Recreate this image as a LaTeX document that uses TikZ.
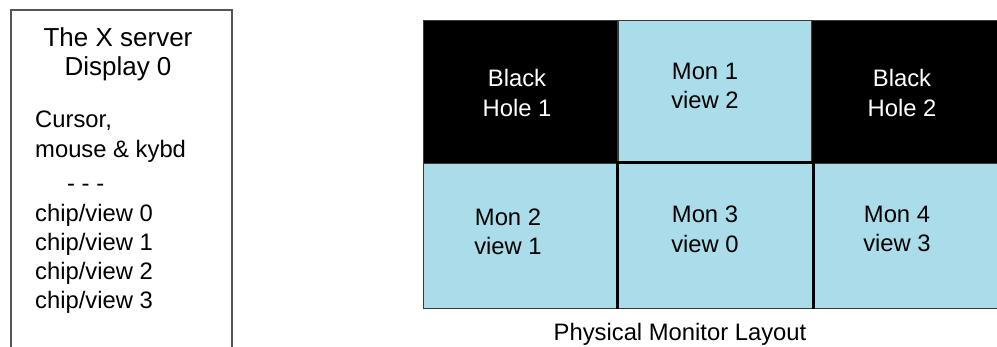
\documentclass[tikz,border=0pt]{standalone}
\usepackage{fontspec}
\setmainfont{Liberation Sans}
\definecolor{monblue}{HTML}{AADDE9}
\definecolor{edgegray}{HTML}{3A3A3A}
\definecolor{panelgray}{HTML}{555555}
\begin{document}
\begin{tikzpicture}[x=1pt,y=-1pt,
  txt/.style={inner sep=0pt, anchor=base, font=\fontsize{23.8}{28}\selectfont},
  ltxt/.style={txt, anchor=base west},
  ttl/.style={inner sep=0pt, anchor=base, font=\fontsize{26}{30}\selectfont},
  cell/.style={draw=edgegray, line width=1pt, inner sep=0pt, anchor=north west},
  mon/.style={cell, fill=monblue},
  hole/.style={cell, fill=black},
  heavy/.style={draw=black, line width=3pt},
]
\useasboundingbox (0,0) rectangle (997,347);
\clip (0,0) rectangle (997,347);
% left panel
\draw[panelgray, line width=1.3pt] (11,350) -- (11,10) -- (232,10) -- (232,350);
\node[ttl] (t1) at (118,47) {The X server};
\node[ttl] (t2) at (118,76) {Display 0};
\node[ltxt] (l1) at (35,128) {Cursor,};
\node[ltxt] (l2) at (35,158) {mouse \& kybd};
\node[ltxt] (l3) at (67,192) {- - -};
\node[ltxt] (c0) at (35,222) {chip/view 0};
\node[ltxt] (c1) at (35,251) {chip/view 1};
\node[ltxt] (c2) at (35,280) {chip/view 2};
\node[ltxt] (c3) at (35,309) {chip/view 3};
% monitor grid
\node[hole, minimum width=194pt, minimum height=143pt] (bh1) at (423,20) {};
\node[mon, minimum width=193pt, minimum height=143pt] (m1) at (618,20) {};
\node[hole, minimum width=195pt, minimum height=143pt] (bh2) at (811,20) {};
\node[mon, minimum width=194pt, minimum height=145pt] (m2) at (423,163) {};
\node[mon, minimum width=195pt, minimum height=145pt] (m3) at (617,163) {};
\node[mon, minimum width=195pt, minimum height=145pt] (m4) at (812,163) {};
\draw[heavy] (m3.south west) -- (m3.north west) -- (m3.north east) -- (m3.south east);
% labels
\node[txt, text=white] (bh1a) at (517,87) {Black};
\node[txt, text=white] (bh1b) at (517,117) {Hole 1};
\node[txt] (m1a) at (705,80) {Mon 1};
\node[txt] (m1b) at (705,109) {view 2};
\node[txt, text=white] (bh2a) at (902,87) {Black};
\node[txt, text=white] (bh2b) at (902,117) {Hole 2};
\node[txt] (m2a) at (508,226) {Mon 2};
\node[txt] (m2b) at (508,255) {view 1};
\node[txt] (m3a) at (705,223) {Mon 3};
\node[txt] (m3b) at (705,253) {view 0};
\node[txt] (m4a) at (897,223) {Mon 4};
\node[txt] (m4b) at (897,252) {view 3};
\node[txt] (cap) at (680,341) {Physical Monitor Layout};
\end{tikzpicture}
\end{document}
